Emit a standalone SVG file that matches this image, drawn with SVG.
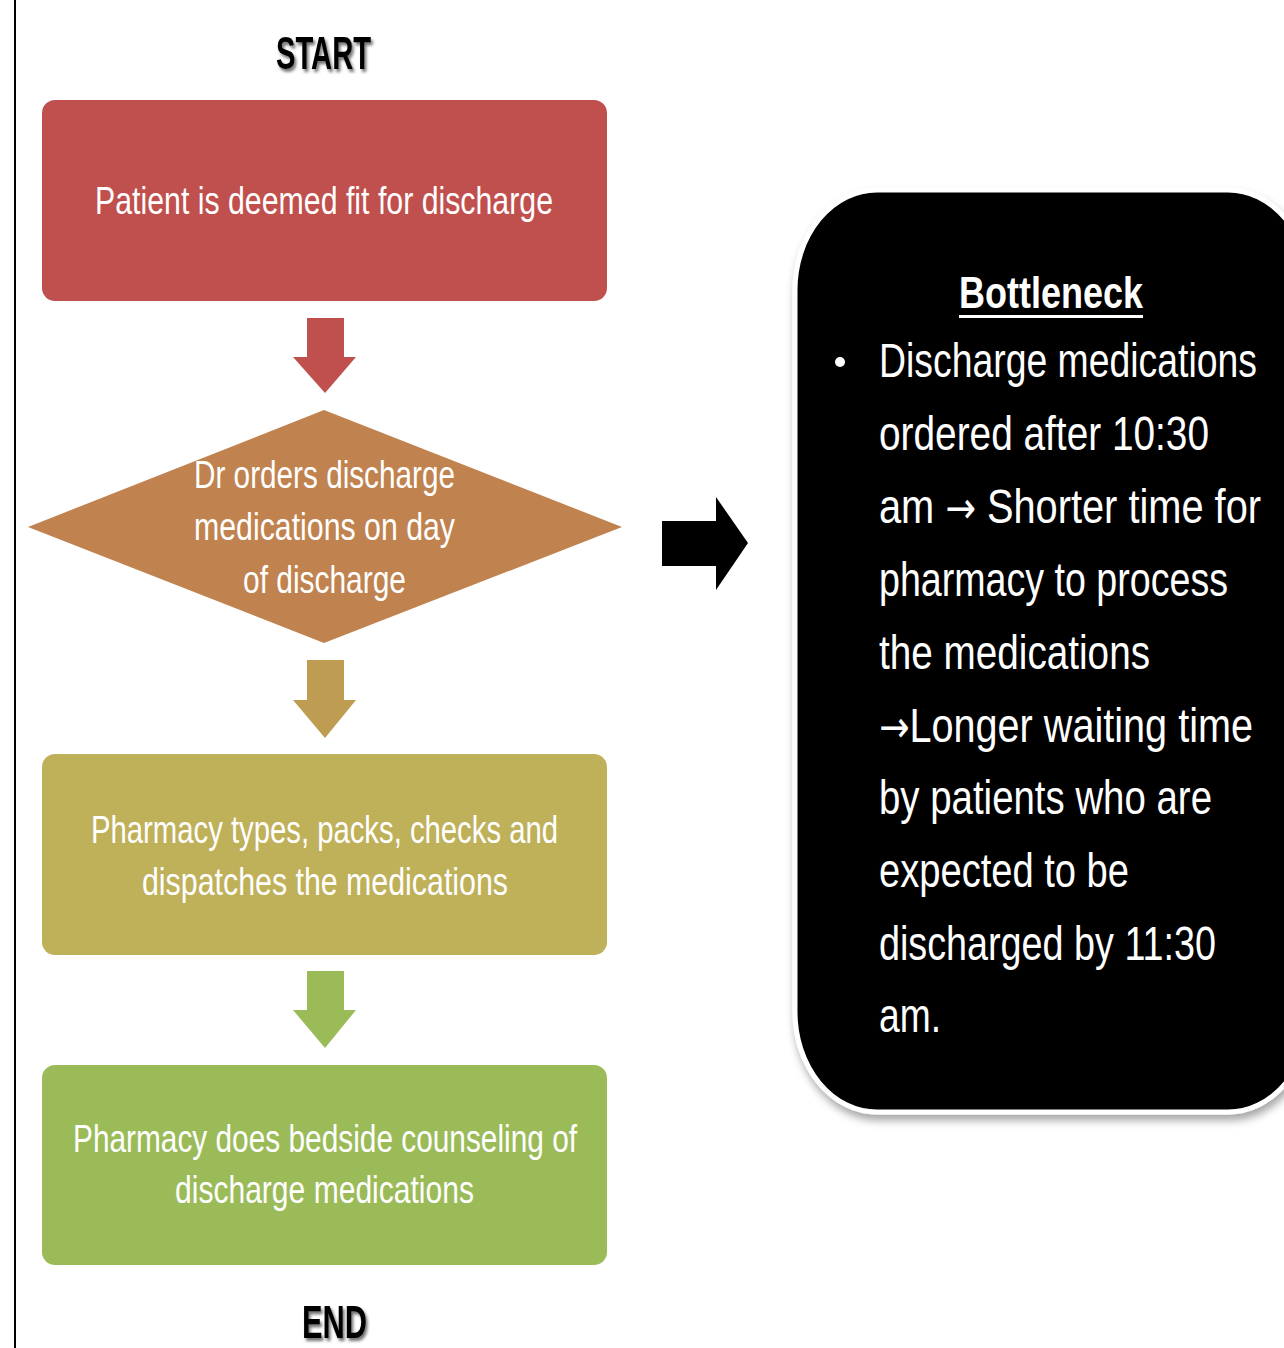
<svg xmlns="http://www.w3.org/2000/svg" width="1284" height="1348" viewBox="0 0 1284 1348">
<defs>
<filter id="txtShadow" x="-20%" y="-20%" width="140%" height="160%">
<feDropShadow dx="2" dy="3" stdDeviation="1.5" flood-color="#000" flood-opacity="0.55"/>
</filter>
<filter id="boxShadow" x="-10%" y="-10%" width="120%" height="120%">
<feDropShadow dx="2" dy="6" stdDeviation="4" flood-color="#000" flood-opacity="0.35"/>
</filter>
<style>
.lbl{font-family:"Liberation Sans",Arial,sans-serif;fill:#fff;font-size:39px}
.big{font-family:"Liberation Sans",Arial,sans-serif;fill:#fff;font-size:48px}
.term{font-family:"Liberation Sans",Arial,sans-serif;font-weight:bold;fill:#000;font-size:46px}
.arr{font-family:"DejaVu Sans",sans-serif;font-size:44px}
</style>
</defs>
<rect width="1284" height="1348" fill="#fff"/>
<line x1="15" y1="0" x2="15" y2="1348" stroke="#000" stroke-width="2"/>

<g id="start">
<text class="term" x="323.5" y="69" text-anchor="middle" textLength="95" lengthAdjust="spacingAndGlyphs" filter="url(#txtShadow)">START</text>
</g>

<g id="node-fit">
<rect x="42" y="100" width="565" height="201" rx="13" fill="#C0504D"/>
<text class="lbl" x="324" y="214" text-anchor="middle" textLength="458" lengthAdjust="spacingAndGlyphs">Patient is deemed fit for discharge</text>
</g>

<g id="node-order">
<polygon points="324,410 622,527 324,643 28,527" fill="#C08350"/>
<text class="lbl" x="324.5" y="488" text-anchor="middle" textLength="261" lengthAdjust="spacingAndGlyphs">Dr orders discharge</text>
<text class="lbl" x="324.5" y="540" text-anchor="middle" textLength="261" lengthAdjust="spacingAndGlyphs">medications on day</text>
<text class="lbl" x="324.5" y="593" text-anchor="middle" textLength="163" lengthAdjust="spacingAndGlyphs">of discharge</text>
</g>

<g id="node-pharmacy">
<rect x="42" y="754" width="565" height="201" rx="13" fill="#BFB05A"/>
<text class="lbl" x="324.5" y="843" text-anchor="middle" textLength="467" lengthAdjust="spacingAndGlyphs">Pharmacy types, packs, checks and</text>
<text class="lbl" x="325" y="895" text-anchor="middle" textLength="366" lengthAdjust="spacingAndGlyphs">dispatches the medications</text>
</g>

<g id="node-counsel">
<rect x="42" y="1065" width="565" height="200" rx="13" fill="#9BBB59"/>
<text class="lbl" x="325" y="1152" text-anchor="middle" textLength="504" lengthAdjust="spacingAndGlyphs">Pharmacy does bedside counseling of</text>
<text class="lbl" x="324.5" y="1203" text-anchor="middle" textLength="299" lengthAdjust="spacingAndGlyphs">discharge medications</text>
</g>

<g id="end">
<text class="term" x="334.5" y="1338" text-anchor="middle" textLength="65" lengthAdjust="spacingAndGlyphs" filter="url(#txtShadow)">END</text>
</g>

<g id="node-bottleneck">
<rect x="795" y="190" width="515" height="922" rx="82" ry="100" fill="#000" stroke="#fff" stroke-width="5" filter="url(#boxShadow)"/>
<text x="1051" y="308" text-anchor="middle" font-family="Liberation Sans, Arial, sans-serif" font-weight="bold" font-size="44" fill="#fff" textLength="184" lengthAdjust="spacingAndGlyphs">Bottleneck</text>
<rect x="959" y="315" width="184" height="3" fill="#fff"/>
<circle cx="840" cy="362" r="5" fill="#fff"/>
<text class="big" x="879" y="377" textLength="378" lengthAdjust="spacingAndGlyphs">Discharge medications</text>
<text class="big" x="879" y="450" textLength="330" lengthAdjust="spacingAndGlyphs">ordered after 10:30</text>
<text class="big" x="879" y="523" textLength="382" lengthAdjust="spacingAndGlyphs">am <tspan class="arr">→</tspan> Shorter time for</text>
<text class="big" x="879" y="596" textLength="349" lengthAdjust="spacingAndGlyphs">pharmacy to process</text>
<text class="big" x="879" y="669" textLength="271" lengthAdjust="spacingAndGlyphs">the medications</text>
<text class="big" x="879" y="742" textLength="374" lengthAdjust="spacingAndGlyphs"><tspan class="arr">→</tspan>Longer waiting time</text>
<text class="big" x="879" y="814" textLength="333" lengthAdjust="spacingAndGlyphs">by patients who are</text>
<text class="big" x="879" y="887" textLength="250" lengthAdjust="spacingAndGlyphs">expected to be</text>
<text class="big" x="879" y="960" textLength="337" lengthAdjust="spacingAndGlyphs">discharged by 11:30</text>
<text class="big" x="879" y="1032" textLength="62" lengthAdjust="spacingAndGlyphs">am.</text>
</g>

<g id="connectors">
<polygon points="307,318 344,318 344,357 356,357 325,393 293,357 307,357" fill="#C0504D"/>
<polygon points="307,660 344,660 344,700 356,700 325,738 293,700 307,700" fill="#BE9C52"/>
<polygon points="307,971 344,971 344,1010 356,1010 325,1048 293,1010 307,1010" fill="#9BBB59"/>
<polygon points="662,521 716,521 716,497 748,543 716,590 716,566 662,566" fill="#000"/>
</g>
</svg>
